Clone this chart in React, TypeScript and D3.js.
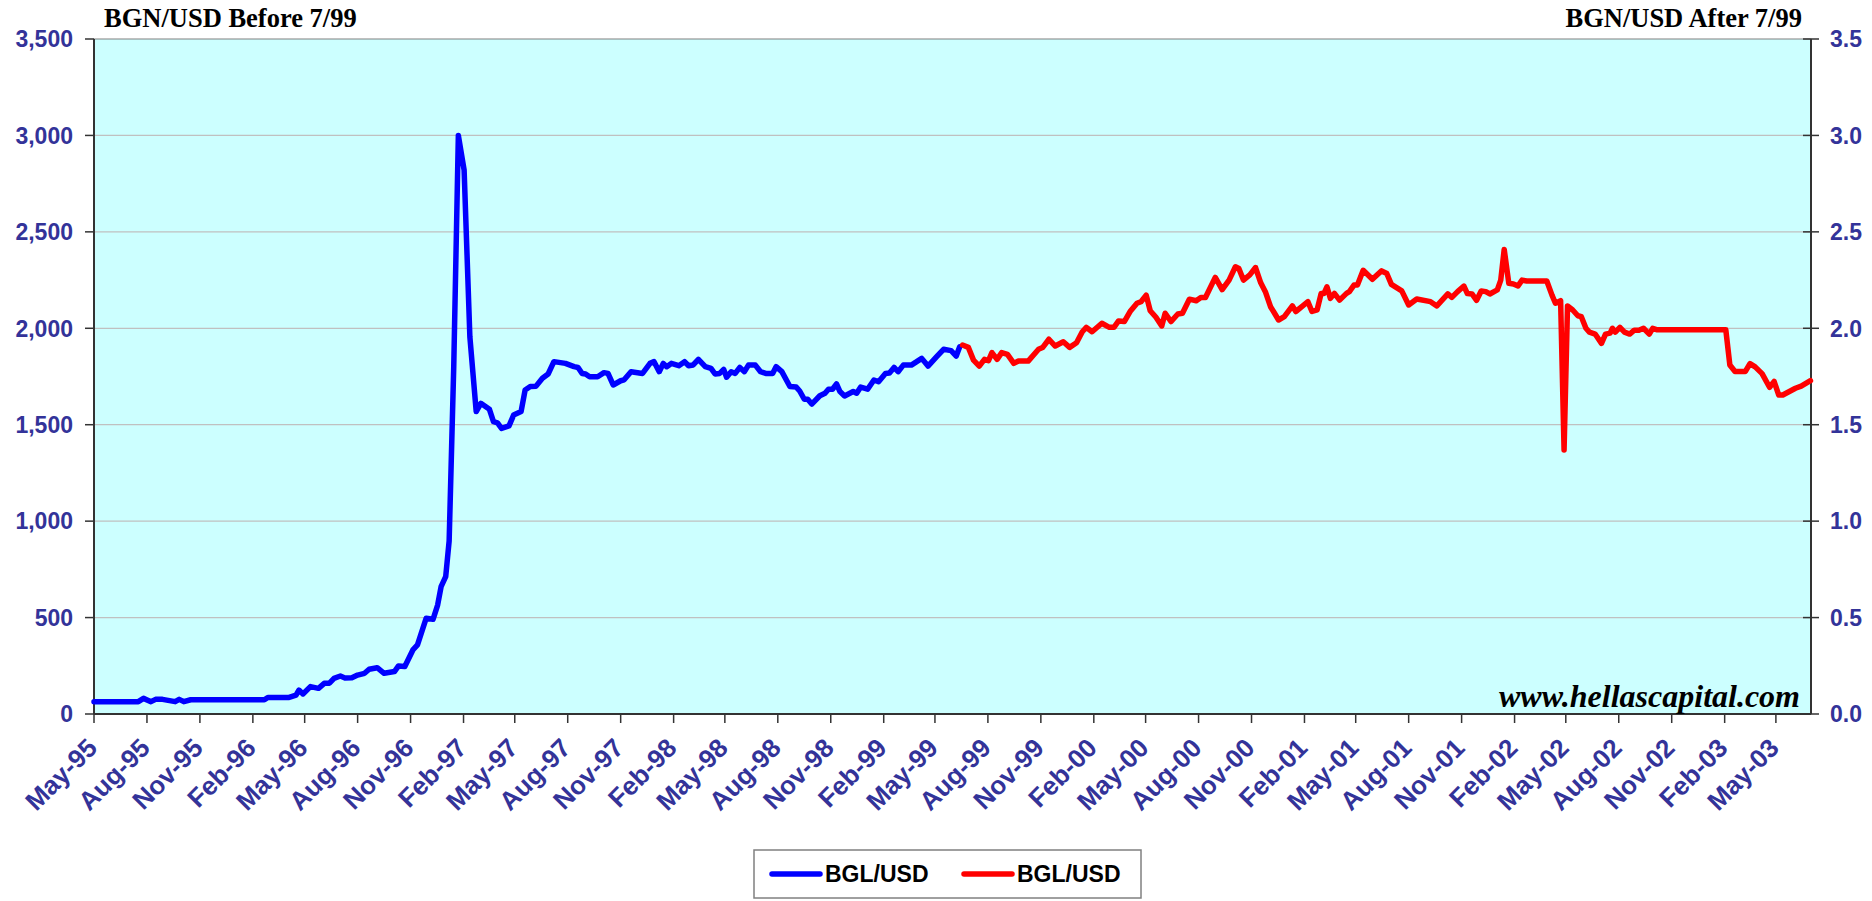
import React, { useEffect, useRef } from 'react';
import * as d3 from 'd3';

// BGL/USD before the redenomination (old leva per dollar)
const blueDates = [
  '1995-05-01', '1995-07-17', '1995-07-26', '1995-08-08', '1995-08-16', '1995-08-28', '1995-09-19', '1995-09-26',
  '1995-10-04', '1995-10-16', '1996-02-21', '1996-02-27', '1996-04-04', '1996-04-16', '1996-04-21', '1996-04-28',
  '1996-05-11', '1996-05-25', '1996-06-04', '1996-06-13', '1996-06-21', '1996-07-02', '1996-07-10', '1996-07-22',
  '1996-08-01', '1996-08-13', '1996-08-21', '1996-09-04', '1996-09-16', '1996-10-04', '1996-10-11', '1996-10-22',
  '1996-11-05', '1996-11-13', '1996-11-28', '1996-12-10', '1996-12-18', '1996-12-24', '1997-01-01', '1997-01-07',
  '1997-01-15', '1997-01-23', '1997-02-02', '1997-02-12', '1997-02-23', '1997-03-03', '1997-03-18', '1997-03-25',
  '1997-04-01', '1997-04-08', '1997-04-21', '1997-04-29', '1997-05-12', '1997-05-19', '1997-05-28', '1997-06-07',
  '1997-06-18', '1997-06-28', '1997-07-08', '1997-07-28', '1997-08-12', '1997-08-19', '1997-08-26', '1997-09-01',
  '1997-09-08', '1997-09-22', '1997-10-03', '1997-10-10', '1997-10-19', '1997-11-01', '1997-11-07', '1997-11-19',
  '1997-12-09', '1997-12-22', '1997-12-29', '1998-01-07', '1998-01-14', '1998-01-20', '1998-01-28', '1998-02-10',
  '1998-02-20', '1998-02-27', '1998-03-07', '1998-03-16', '1998-03-28', '1998-04-07', '1998-04-14', '1998-04-22',
  '1998-04-29', '1998-05-04', '1998-05-12', '1998-05-19', '1998-05-27', '1998-06-04', '1998-06-11', '1998-06-23',
  '1998-07-02', '1998-07-11', '1998-07-23', '1998-07-29', '1998-08-08', '1998-08-22', '1998-09-02', '1998-09-08',
  '1998-09-16', '1998-09-22', '1998-09-29', '1998-10-13', '1998-10-22', '1998-10-28', '1998-11-04', '1998-11-11',
  '1998-11-17', '1998-11-25', '1998-12-10', '1998-12-16', '1998-12-23', '1999-01-04', '1999-01-15', '1999-01-23',
  '1999-02-04', '1999-02-11', '1999-02-19', '1999-02-26', '1999-03-07', '1999-03-21', '1999-04-08', '1999-04-19',
  '1999-05-04', '1999-05-16', '1999-05-29', '1999-06-07', '1999-06-13'
];
const blueValues = [
  64, 64, 81, 64, 76, 76, 64, 76,
  64, 74, 74, 86, 86, 98, 124, 104,
  142, 133, 159, 160, 185, 197, 187, 188,
  202, 211, 232, 240, 211, 220, 249, 246,
  332, 358, 496, 491, 565, 660, 712, 897,
  1801, 3000, 2821, 1956, 1568, 1611, 1580, 1516,
  1510, 1481, 1494, 1550, 1568, 1680, 1698, 1700,
  1741, 1763, 1827, 1818, 1801, 1797, 1766, 1763,
  1749, 1749, 1770, 1766, 1706, 1728, 1733, 1775,
  1766, 1818, 1827, 1775, 1818, 1801, 1818, 1806,
  1827, 1806, 1810, 1839, 1801, 1792, 1763, 1766,
  1787, 1746, 1775, 1766, 1797, 1775, 1809, 1809,
  1775, 1766, 1766, 1801, 1775, 1698, 1695, 1675,
  1632, 1632, 1607, 1650, 1663, 1684, 1684, 1711,
  1672, 1649, 1672, 1663, 1695, 1684, 1732, 1723,
  1766, 1768, 1797, 1775, 1809, 1809, 1844, 1804,
  1853, 1891, 1884, 1856, 1904
];

// BGL/USD after 7/99 (new leva per dollar, right axis)
const redDates = [
  '1999-06-18', '1999-06-28', '1999-07-07', '1999-07-17', '1999-07-26', '1999-08-02', '1999-08-08', '1999-08-17',
  '1999-08-25', '1999-09-04', '1999-09-15', '1999-09-23', '1999-10-10', '1999-10-28', '1999-11-04', '1999-11-15',
  '1999-11-26', '1999-12-10', '1999-12-21', '2000-01-02', '2000-01-12', '2000-01-19', '2000-01-29', '2000-02-15',
  '2000-02-28', '2000-03-07', '2000-03-15', '2000-03-25', '2000-04-04', '2000-04-16', '2000-04-23', '2000-05-02',
  '2000-05-09', '2000-05-19', '2000-05-29', '2000-06-04', '2000-06-14', '2000-06-26', '2000-07-04', '2000-07-16',
  '2000-07-28', '2000-08-05', '2000-08-13', '2000-08-30', '2000-09-11', '2000-09-23', '2000-10-04', '2000-10-10',
  '2000-10-18', '2000-10-29', '2000-11-08', '2000-11-17', '2000-11-25', '2000-12-04', '2000-12-11', '2000-12-18',
  '2000-12-28', '2001-01-11', '2001-01-17', '2001-01-29', '2001-02-07', '2001-02-14', '2001-02-23', '2001-03-02',
  '2001-03-07', '2001-03-12', '2001-03-18', '2001-03-25', '2001-04-03', '2001-04-15', '2001-04-20', '2001-04-28',
  '2001-05-04', '2001-05-14', '2001-05-30', '2001-06-15', '2001-06-24', '2001-07-02', '2001-07-20', '2001-08-01',
  '2001-08-15', '2001-09-08', '2001-09-19', '2001-10-08', '2001-10-15', '2001-10-25', '2001-11-05', '2001-11-11',
  '2001-11-19', '2001-11-27', '2001-12-05', '2001-12-13', '2001-12-20', '2002-01-02', '2002-01-08', '2002-01-14',
  '2002-01-22', '2002-01-30', '2002-02-07', '2002-02-14', '2002-02-22', '2002-03-29', '2002-04-07', '2002-04-13',
  '2002-04-22', '2002-04-28', '2002-05-04', '2002-05-13', '2002-05-22', '2002-05-28', '2002-06-05', '2002-06-11',
  '2002-06-21', '2002-07-02', '2002-07-09', '2002-07-17', '2002-07-21', '2002-07-26', '2002-08-03', '2002-08-11',
  '2002-08-20', '2002-08-28', '2002-09-05', '2002-09-13', '2002-09-23', '2002-09-29', '2002-10-07', '2003-02-03',
  '2003-02-10', '2003-02-19', '2003-03-09', '2003-03-17', '2003-03-26', '2003-04-07', '2003-04-20', '2003-04-28',
  '2003-05-06', '2003-05-13', '2003-06-04', '2003-06-14', '2003-06-30'
];
const redValues = [
  1.913, 1.901, 1.835, 1.804, 1.839, 1.832, 1.874, 1.839,
  1.874, 1.865, 1.818, 1.83, 1.83, 1.891, 1.9, 1.943,
  1.908, 1.93, 1.901, 1.925, 1.982, 2.005, 1.982, 2.026,
  2.005, 2.005, 2.038, 2.035, 2.087, 2.13, 2.138, 2.172,
  2.091, 2.057, 2.012, 2.078, 2.035, 2.074, 2.078, 2.151,
  2.143, 2.16, 2.16, 2.264, 2.2, 2.25, 2.319, 2.31,
  2.25, 2.277, 2.315, 2.236, 2.19, 2.112, 2.078, 2.043,
  2.06, 2.116, 2.087, 2.116, 2.138, 2.087, 2.096, 2.181,
  2.181, 2.215, 2.155, 2.181, 2.146, 2.181, 2.19, 2.224,
  2.224, 2.301, 2.254, 2.298, 2.284, 2.228, 2.194, 2.121,
  2.152, 2.138, 2.116, 2.178, 2.16, 2.19, 2.219, 2.18,
  2.178, 2.145, 2.193, 2.19, 2.178, 2.199, 2.25, 2.409,
  2.233, 2.23, 2.22, 2.25, 2.245, 2.245, 2.172, 2.13,
  2.143, 1.369, 2.116, 2.095, 2.065, 2.06, 2.0, 1.98,
  1.97, 1.922, 1.97, 1.975, 2.0, 1.98, 2.005, 1.98,
  1.97, 1.99, 1.99, 2.0, 1.97, 2.0, 1.992, 1.992,
  1.81, 1.776, 1.776, 1.817, 1.80, 1.765, 1.694, 1.724,
  1.654, 1.654, 1.689, 1.70, 1.728
];

const leftTicks = [0, 500, 1000, 1500, 2000, 2500, 3000, 3500];
const rightTicks = [0, 0.5, 1.0, 1.5, 2.0, 2.5, 3.0, 3.5];
const legendLabels = ['BGL/USD', 'BGL/USD'];
const titleLeft = 'BGN/USD Before 7/99';
const titleRight = 'BGN/USD After 7/99';
const watermark = 'www.hellascapital.com';

const W = 1872;
const H = 901;
const left = 94;
const right = 1811;
const top = 39;
const bottom = 714;
const labelColor = '#333399';
const arial = 'Arial, "Liberation Sans", sans-serif';
const times = '"Times New Roman", "Liberation Serif", serif';

const App = () => {
  const ref = useRef<SVGSVGElement>(null);

  useEffect(() => {
    const svg = d3.select(ref.current);
    svg.selectAll('*').remove();

    const parse = d3.timeParse('%Y-%m-%d');
    const start = parse('1995-05-01');
    const end = parse('2003-07-01');

    const x = d3.scaleTime().domain([start, end]).range([left, right]);
    const yL = d3.scaleLinear().domain([0, 3500]).range([bottom, top]);
    const yR = d3.scaleLinear().domain([0, 3.5]).range([bottom, top]);

    // plot background
    svg.append('rect')
      .attr('x', left).attr('y', top)
      .attr('width', right - left).attr('height', bottom - top)
      .attr('fill', '#CCFFFF')
      .attr('stroke', '#808080')
      .attr('stroke-width', 1);

    // gridlines
    svg.append('g')
      .selectAll('line')
      .data(leftTicks.slice(1, -1))
      .join('line')
      .attr('x1', left).attr('x2', right)
      .attr('y1', d => yL(d)).attr('y2', d => yL(d))
      .attr('stroke', '#C0C0C0')
      .attr('stroke-width', 1.3);

    // left axis
    const gl = svg.append('g');
    gl.append('line')
      .attr('x1', left).attr('x2', left).attr('y1', top).attr('y2', bottom)
      .attr('stroke', '#333').attr('stroke-width', 2);
    gl.selectAll('line.tick')
      .data(leftTicks)
      .join('line')
      .attr('class', 'tick')
      .attr('x1', left - 9).attr('x2', left)
      .attr('y1', d => yL(d)).attr('y2', d => yL(d))
      .attr('stroke', '#333').attr('stroke-width', 1.5);
    gl.selectAll('text')
      .data(leftTicks)
      .join('text')
      .attr('x', 73)
      .attr('y', d => yL(d))
      .attr('dy', '0.36em')
      .attr('text-anchor', 'end')
      .attr('font-family', arial)
      .attr('font-weight', 'bold')
      .attr('font-size', 23)
      .attr('fill', labelColor)
      .text(d => d3.format(',')(d));

    // right axis
    const gr = svg.append('g');
    gr.append('line')
      .attr('x1', right).attr('x2', right).attr('y1', top).attr('y2', bottom)
      .attr('stroke', '#333').attr('stroke-width', 2);
    gr.selectAll('line.tick')
      .data(rightTicks)
      .join('line')
      .attr('class', 'tick')
      .attr('x1', right - 8).attr('x2', right + 8)
      .attr('y1', d => yR(d)).attr('y2', d => yR(d))
      .attr('stroke', '#333').attr('stroke-width', 1.5);
    gr.selectAll('text')
      .data(rightTicks)
      .join('text')
      .attr('x', 1830)
      .attr('y', d => yR(d))
      .attr('dy', '0.36em')
      .attr('font-family', arial)
      .attr('font-weight', 'bold')
      .attr('font-size', 23)
      .attr('fill', labelColor)
      .text(d => d3.format('.1f')(d));

    // bottom axis, tick every 3 months
    const xTicks = d3.timeMonth.range(start, end).filter((d, i) => i % 3 === 0);
    const gx = svg.append('g');
    gx.append('line')
      .attr('x1', left).attr('x2', right).attr('y1', bottom).attr('y2', bottom)
      .attr('stroke', '#333').attr('stroke-width', 2);
    gx.selectAll('line.tick')
      .data(xTicks)
      .join('line')
      .attr('class', 'tick')
      .attr('x1', d => x(d)).attr('x2', d => x(d))
      .attr('y1', bottom).attr('y2', bottom + 9)
      .attr('stroke', '#333').attr('stroke-width', 1.5);
    gx.selectAll('text')
      .data(xTicks)
      .join('text')
      .attr('transform', d => `translate(${x(d) - 2}, ${bottom + 29}) rotate(-45)`)
      .attr('text-anchor', 'end')
      .attr('dy', '0.36em')
      .attr('font-family', arial)
      .attr('font-weight', 'bold')
      .attr('font-size', 26)
      .attr('fill', labelColor)
      .text(d => d3.timeFormat('%b-%y')(d));

    // lines
    const blue = blueDates.map((d, i) => ({ date: parse(d), value: blueValues[i] }));
    const red = redDates.map((d, i) => ({ date: parse(d), value: redValues[i] }));

    svg.append('path')
      .datum(blue)
      .attr('fill', 'none')
      .attr('stroke', '#0000FF')
      .attr('stroke-width', 5.5)
      .attr('stroke-linejoin', 'round')
      .attr('stroke-linecap', 'round')
      .attr('d', d3.line<any>().x(d => x(d.date)).y(d => yL(d.value)));

    svg.append('path')
      .datum(red)
      .attr('fill', 'none')
      .attr('stroke', '#FF0000')
      .attr('stroke-width', 5.5)
      .attr('stroke-linejoin', 'round')
      .attr('stroke-linecap', 'round')
      .attr('d', d3.line<any>().x(d => x(d.date)).y(d => yR(d.value)));

    // titles
    svg.append('text')
      .attr('x', 104).attr('y', 27)
      .attr('font-family', times).attr('font-weight', 'bold').attr('font-size', 26.5)
      .text(titleLeft);
    svg.append('text')
      .attr('x', 1802).attr('y', 27)
      .attr('text-anchor', 'end')
      .attr('font-family', times).attr('font-weight', 'bold').attr('font-size', 26.5)
      .text(titleRight);

    // watermark
    svg.append('text')
      .attr('x', 1800).attr('y', 707)
      .attr('text-anchor', 'end')
      .attr('font-family', times).attr('font-weight', 'bold').attr('font-style', 'italic')
      .attr('font-size', 32)
      .text(watermark);

    // legend
    const lg = svg.append('g');
    lg.append('rect')
      .attr('x', 754).attr('y', 850).attr('width', 387).attr('height', 48)
      .attr('fill', 'white').attr('stroke', '#808080').attr('stroke-width', 1.5);
    const colors = ['#0000FF', '#FF0000'];
    const entryX = [772, 964];
    legendLabels.forEach((lab, i) => {
      lg.append('line')
        .attr('x1', entryX[i]).attr('x2', entryX[i] + 48)
        .attr('y1', 874).attr('y2', 874)
        .attr('stroke', colors[i]).attr('stroke-width', 5.5).attr('stroke-linecap', 'round');
      lg.append('text')
        .attr('x', entryX[i] + 53).attr('y', 874)
        .attr('dy', '0.36em')
        .attr('font-family', arial).attr('font-weight', 'bold').attr('font-size', 23)
        .attr('fill', 'black')
        .text(lab);
    });
  }, []);

  return (
    <svg
      ref={ref}
      width={W}
      height={H}
      style={{ position: 'absolute', left: 0, top: 0, background: 'white' }}
    />
  );
};

export default App;
